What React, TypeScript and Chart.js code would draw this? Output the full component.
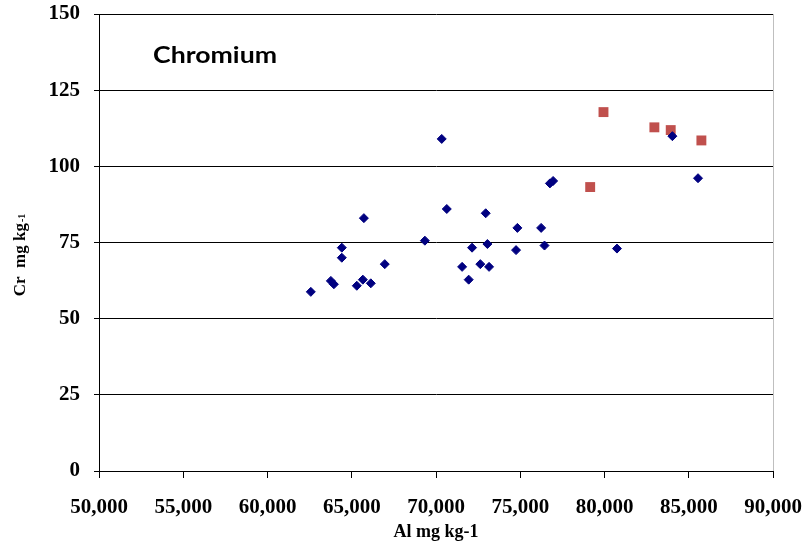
import React, { useEffect, useRef } from "react";
import { Chart, registerables } from "chart.js";

Chart.register(...registerables);

// Blue series (Al mg/kg, Cr mg/kg)
const blueAl = [62570, 63760, 63940, 64410, 64410, 65300, 65660, 65720, 66130, 66960, 69340, 70340, 70640, 71550, 71940, 72140, 72630, 72950, 73050, 73150, 74750, 74830, 76240, 76440, 76760, 76950, 80740, 84030, 85550];
const blueCr = [58.8, 62.4, 61.3, 73.3, 70.0, 60.8, 62.8, 83.0, 61.6, 67.9, 75.6, 109.0, 86.0, 67.0, 62.8, 73.3, 67.9, 84.6, 74.5, 67.0, 72.5, 79.8, 79.8, 74.0, 94.4, 95.2, 73.0, 109.9, 96.1];
// Red series
const redAl = [79940, 82960, 83930, 85750, 79150];
const redCr = [117.8, 112.8, 111.9, 108.5, 93.2];

const chartTitle = "Chromium";
const xTitle = "Al mg kg-1";
const yTitleMain = "Cr  mg kg";
const yTitleSub = "-1";
const xMin = 50000, xMax = 90000, xStep = 5000;
const yMin = 0, yMax = 150, yStep = 25;

const SERIF = "'Times New Roman', 'Liberation Serif', serif";

export default function App() {
  const ref = useRef<HTMLCanvasElement | null>(null);
  useEffect(() => {
    if (!ref.current) return;
    const overlay = {
      id: "overlay",
      afterDraw(chart: any) {
        const ctx = chart.ctx;
        const ca = chart.chartArea;
        ctx.save();
        // chart title inside plot area
        ctx.fillStyle = "#000";
        ctx.font = "bold 22px Lato, 'Open Sans', sans-serif";
        ctx.textBaseline = "alphabetic";
        ctx.textAlign = "left";
        const tw = ctx.measureText(chartTitle).width;
        ctx.save();
        ctx.translate(ca.left + 54, ca.top + 49);
        ctx.scale(124 / tw, 1);
        ctx.fillText(chartTitle, 0, 0);
        ctx.restore();
        // y-axis title, rotated
        ctx.translate(25, (ca.top + ca.bottom) / 2 + 13);
        ctx.rotate(-Math.PI / 2);
        ctx.font = `bold 17px ${SERIF}`;
        const wMain = ctx.measureText(yTitleMain).width;
        ctx.font = `bold 10px ${SERIF}`;
        const wSub = ctx.measureText(yTitleSub).width;
        const start = -(wMain + wSub) / 2;
        ctx.font = `bold 17px ${SERIF}`;
        ctx.fillText(yTitleMain, start, 0);
        ctx.font = `bold 10px ${SERIF}`;
        ctx.fillText(yTitleSub, start + wMain + 1, 0);
        ctx.restore();
      },
    };
    const chart = new Chart(ref.current, {
      type: "scatter",
      data: {
        datasets: [
          {
            label: "Cr",
            data: blueAl.map((x, i) => ({ x, y: blueCr[i] })),
            pointStyle: "rectRot",
            pointRadius: 4.5,
            backgroundColor: "#000080",
            borderColor: "#000080",
            borderWidth: 1,
          },
          {
            label: "Cr (2)",
            data: redAl.map((x, i) => ({ x, y: redCr[i] })),
            pointStyle: "rect",
            pointRadius: 7,
            backgroundColor: "#C0504D",
            borderColor: "#C0504D",
            borderWidth: 0,
          },
        ],
      },
      plugins: [overlay],
      options: {
        animation: false,
        responsive: false,
        layout: { padding: { top: 14, right: 33, left: 0, bottom: 0 } },
        plugins: { legend: { display: false }, tooltip: { enabled: false }, title: { display: false } },
        scales: {
          x: {
            type: "linear",
            min: xMin,
            max: xMax,
            afterFit: (s: any) => { s.height = 76; s.paddingLeft = 0; s.paddingRight = 0; },
            ticks: {
              stepSize: xStep,
              color: "#000",
              padding: 17,
              font: { family: SERIF, size: 21, weight: "bold" },
              callback: (v: any) => Number(v).toLocaleString("en-US"),
              maxRotation: 0,
            },
            grid: {
              drawOnChartArea: true,
              color: (c: any) => (c.index === 8 ? "#bfbfbf" : "rgba(0,0,0,0)"),
              tickColor: "#000",
              tickLength: 7,
              lineWidth: 1,
            },
            border: { display: true, color: "#000", width: 1 },
            title: {
              display: true,
              text: xTitle,
              color: "#000",
              font: { family: SERIF, size: 18, weight: "bold" },
              padding: { top: 0, bottom: 4 },
            },
          },
          y: {
            type: "linear",
            min: yMin,
            max: yMax,
            afterFit: (s: any) => { s.width = 99; s.paddingTop = 0; s.paddingBottom = 0; },
            ticks: {
              stepSize: yStep,
              color: "#000",
              padding: 14,
              font: { family: SERIF, size: 21, weight: "bold" },
            },
            grid: { color: "#000", tickColor: "#000", tickLength: 5, lineWidth: 1 },
            border: { display: true, color: "#000", width: 1 },
          },
        },
      },
    });
    return () => chart.destroy();
  }, []);
  return (
    <div style={{ position: "fixed", left: 0, top: 0, width: 806, height: 547, background: "#fff" }}>
      <canvas ref={ref} width={806} height={547} style={{ width: 806, height: 547 }} />
    </div>
  );
}
